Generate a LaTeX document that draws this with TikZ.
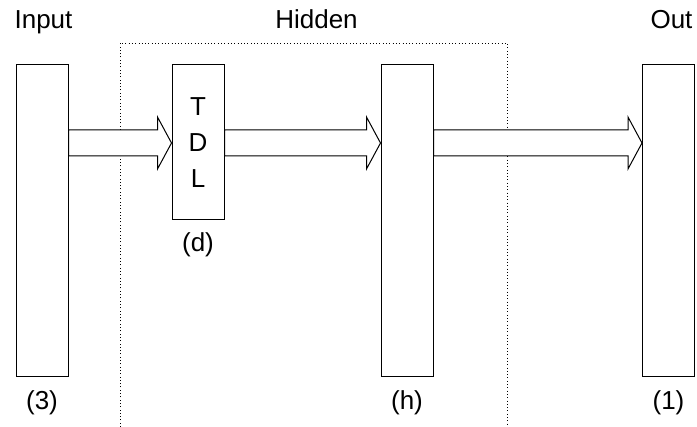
\documentclass[tikz,border=0pt]{standalone}
\usepackage{fontspec}
\setmainfont{Liberation Sans}
\usetikzlibrary{calc}
\tikzset{
  layer/.style={draw=black, line width=1pt, fill=white, inner sep=0pt, minimum width=52pt},
  title/.style={font=\fontsize{26}{30}\selectfont, anchor=base, inner sep=0pt},
  size/.style={font=\fontsize{26}{30}\selectfont, inner sep=0pt},
  fat/.style={draw=black, line width=1pt, fill=white, line join=miter},
  region/.style={draw=black, line width=0.8pt, dash pattern=on 0.9pt off 2.4pt}
}
\newcommand{\fatarrow}[2]{%
  \coordinate (#1s1) at (#1.east |- yshafttop);
  \coordinate (#1s2) at (#1.east |- yshaftbot);
  \coordinate (#2t) at (#2.west |- ymid);
  \coordinate (#2b1) at ($(#2.west |- yshafttop)+(-14,0)$);
  \coordinate (#2b2) at ($(#2.west |- yheadtop)+(-14,0)$);
  \coordinate (#2b3) at ($(#2.west |- yheadbot)+(-14,0)$);
  \coordinate (#2b4) at ($(#2.west |- yshaftbot)+(-14,0)$);
  \draw[fat] (#1s1) -- (#2b1) -- (#2b2) -- (#2t) -- (#2b3) -- (#2b4) -- (#1s2) -- cycle;}
\begin{document}
\begin{tikzpicture}[x=1pt,y=-1pt]
\useasboundingbox (0,0) rectangle (697,427);
\coordinate (yshafttop) at (0,130);
\coordinate (yshaftbot) at (0,156);
\coordinate (yheadtop) at (0,117);
\coordinate (yheadbot) at (0,169);
\coordinate (ymid) at (0,143);
\draw[region] (120,427) -- (120,43) -- (507,43) -- (507,427);
\node[layer, minimum height=312pt] (in) at (42,221) {};
\node[layer, minimum height=155pt, font=\fontsize{26}{36}\selectfont, align=center] (tdl) at (198,142.5) {T\\D\\L};
\node[layer, minimum height=312pt] (hid) at (407,221) {};
\node[layer, minimum height=312pt] (out) at (668.5,221) {};
\fatarrow{in}{tdl}
\fatarrow{tdl}{hid}
\fatarrow{hid}{out}
\node[title] (tin) at (43.5,29) {Input};
\node[title] (thid) at (316.5,29) {Hidden};
\node[title] (tout) at (671.5,29) {Out};
\node[size] (lin) at ($(in.south)+(0,25)$) {(3)};
\node[size] (ltdl) at ($(tdl.south)+(0,24)$) {(d)};
\node[size] (lhid) at ($(hid.south)+(0,25)$) {(h)};
\node[size] (lout) at ($(out.south)+(0,25)$) {(1)};
\end{tikzpicture}
\end{document}
